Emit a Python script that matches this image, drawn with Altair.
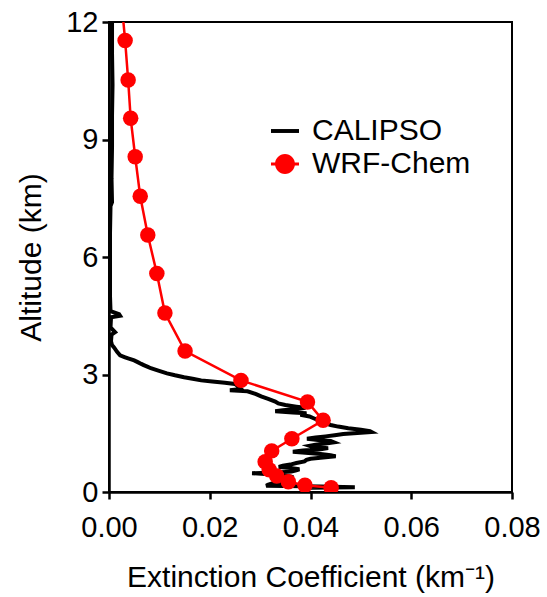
import altair as alt
import pandas as pd

# CALIPSO extinction profile (altitude km, extinction km^-1)
cal_alt = [12.00, 11.20, 10.40, 9.60, 8.80, 8.00, 7.40, 7.30, 6.60, 5.80, 5.00, 4.62, 4.54, 4.50, 4.46,
           4.20, 4.08, 4.02, 3.85, 3.75, 3.69, 3.58, 3.49, 3.44, 3.41, 3.36, 3.31, 3.27, 3.24, 3.20,
           3.16, 3.10, 3.03, 2.98, 2.93, 2.89, 2.85, 2.82, 2.79, 2.76, 2.70, 2.63, 2.60, 2.57, 2.50,
           2.44, 2.38, 2.31,
           2.26, 2.22, 2.18, 2.15, 2.12, 2.09, 2.06, 2.03, 2.01, 1.97, 1.93, 1.89, 1.85, 1.80, 1.75,
           1.71, 1.67, 1.63, 1.59, 1.55, 1.53, 1.51, 1.48, 1.45, 1.42, 1.39, 1.36, 1.33, 1.30, 1.27,
           1.24, 1.21, 1.18, 1.15, 1.12, 1.09, 1.06, 1.03, 1.00, 0.97, 0.94, 0.91, 0.88, 0.85, 0.82,
           0.78, 0.74, 0.70, 0.67, 0.64, 0.61, 0.58, 0.55, 0.52, 0.50, 0.48, 0.46, 0.44, 0.41, 0.38,
           0.35, 0.33, 0.30, 0.27, 0.24, 0.21, 0.18, 0.16, 0.14, 0.12, 0.11]
cal_ext = [0.0006, 0.0006, 0.0007, 0.0006, 0.0006, 0.0005, 0.0006, 0.0003, 0.0002, 0.0002, 0.0002, 0.0003, 0.0020, 0.0022, 0.0004,
           0.0003, 0.0012, 0.0005, 0.0004, 0.0006, 0.0010, 0.0016, 0.0022, 0.0032, 0.0038, 0.0050, 0.0058, 0.0064, 0.0069, 0.0076,
           0.0083, 0.0098, 0.0115, 0.0131, 0.0149, 0.0166, 0.0183, 0.0205, 0.0230, 0.0250, 0.0256, 0.0262, 0.0240, 0.0275, 0.0292,
           0.0302, 0.0316, 0.0330,
           0.0336, 0.0350, 0.0372, 0.0390, 0.0375, 0.0345, 0.0330, 0.0365, 0.0392, 0.0380, 0.0398, 0.0405, 0.0412, 0.0418, 0.0430,
           0.0440, 0.0455, 0.0475, 0.0500, 0.0518, 0.0521, 0.0500, 0.0465, 0.0448, 0.0430, 0.0410, 0.0393, 0.0415, 0.0440, 0.0446,
           0.0430, 0.0410, 0.0398, 0.0405, 0.0435, 0.0420, 0.0385, 0.0365, 0.0390, 0.0420, 0.0440, 0.0450, 0.0425, 0.0400, 0.0392,
           0.0388, 0.0372, 0.0360, 0.0345, 0.0337, 0.0360, 0.0378, 0.0370, 0.0362, 0.0330, 0.0284, 0.0310, 0.0340, 0.0355, 0.0366,
           0.0350, 0.0332, 0.0345, 0.0352, 0.0335, 0.0322, 0.0315, 0.0312, 0.0420, 0.0488, 0.0400]

# WRF-Chem profile
wrf_alt = [12.50, 11.53, 10.52, 9.54, 8.56, 7.55, 6.56, 5.58, 4.57, 3.60, 2.85,
           2.30, 1.83, 1.36, 1.05, 0.77, 0.57, 0.41, 0.26, 0.17, 0.11]
wrf_ext = [0.0025, 0.0032, 0.0038, 0.0043, 0.0052, 0.0062, 0.0077, 0.0095, 0.0111, 0.0151, 0.0262,
           0.0394, 0.0425, 0.0363, 0.0323, 0.0310, 0.0318, 0.0333, 0.0356, 0.0389, 0.0441]

series_names = ["CALIPSO", "WRF-Chem"]
series_colors = ["black", "red"]
x_ticks = [0, 0.02, 0.04, 0.06, 0.08]
y_ticks = [0, 3, 6, 9, 12]

cal = pd.DataFrame({"alt": cal_alt, "ext": cal_ext, "series": "CALIPSO"})
cal["idx"] = range(len(cal))
wrf = pd.DataFrame({"alt": wrf_alt, "ext": wrf_ext, "series": "WRF-Chem"})
wrf["idx"] = range(len(wrf))
both = pd.concat([cal, wrf], ignore_index=True)

FONT = "Liberation Sans"

x = alt.X("ext:Q", scale=alt.Scale(domain=[0, 0.08], nice=False),
          axis=alt.Axis(values=x_ticks, format=".2f", title="Extinction Coefficient (km⁻¹)",
                        labelFlush=False, labelPadding=14, titleBaseline="alphabetic", titleY=94))
y = alt.Y("alt:Q", scale=alt.Scale(domain=[0, 12], nice=False),
          axis=alt.Axis(values=y_ticks, title="Altitude (km)", labelPadding=4,
                        titleBaseline="alphabetic", titleX=-69))

cal_line = alt.Chart(cal).mark_line(color="black", strokeWidth=4, clip=True).encode(
    x=x, y=y, order="idx:Q")
wrf_line = alt.Chart(wrf).mark_line(color="red", strokeWidth=2.5, clip=True).encode(
    x=x, y=y, order="idx:Q")
wrf_pts = alt.Chart(wrf).mark_circle(color="red", size=240, opacity=1, clip=True).encode(
    x=x, y=y)

path_cal = "M -1 -0.14 L 1 -0.14 L 1 0.14 L -1 0.14 Z"
path_wrf = ("M -1 -0.1 L 1 -0.1 L 1 0.1 L -1 0.1 Z "
            "M -0.71 0 A 0.71 0.71 0 1 1 0.71 0 A 0.71 0.71 0 1 1 -0.71 0 Z")

leg = alt.Legend(title=None, orient="none", legendX=161, legendY=94, symbolSize=784,
                 labelFontSize=30, labelFont=FONT, labelColor="black", labelOffset=12,
                 rowPadding=3, padding=0, symbolStrokeWidth=0, symbolOffset=0, labelLimit=400)

legend_layer = alt.Chart(both).transform_filter("false").mark_point(
    filled=True, opacity=1, strokeWidth=0).encode(
    x=x, y=y,
    fill=alt.Fill("series:N", scale=alt.Scale(domain=series_names, range=series_colors), legend=leg),
    shape=alt.Shape("series:N", scale=alt.Scale(domain=series_names, range=[path_cal, path_wrf]), legend=leg),
)

chart = alt.layer(cal_line, wrf_line, wrf_pts, legend_layer).properties(
    width=403, height=470,
    padding={"left": 109, "top": 22, "right": 35, "bottom": 105},
    autosize="none",
).configure_view(
    stroke="black", strokeWidth=2
).configure_axis(
    grid=False, domainColor="black", domainWidth=2.5, tickColor="black", tickWidth=2.5,
    tickSize=7, labelFont=FONT, labelFontSize=29, labelColor="black",
    titleFont=FONT, titleFontSize=30, titleFontWeight="normal", titleColor="black",
)

chart.save("out.html", embed_options={"renderer": "svg", "actions": False})
